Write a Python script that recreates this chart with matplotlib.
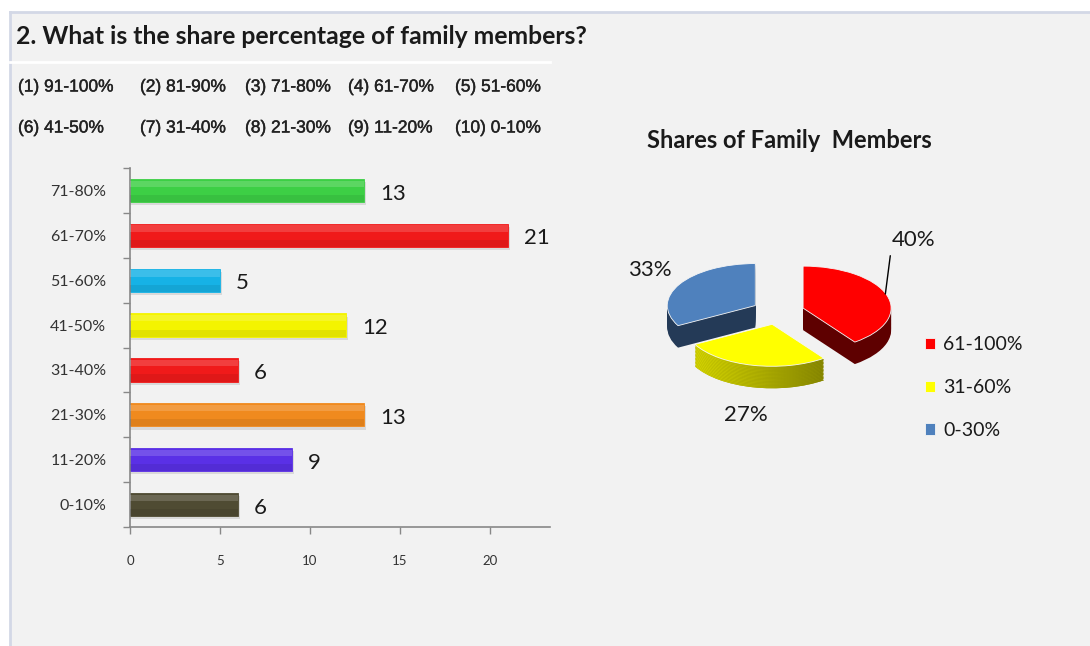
import numpy as np
import matplotlib.pyplot as plt
import matplotlib.patheffects as pe
from matplotlib.patches import Rectangle
from matplotlib.lines import Line2D
from matplotlib.colors import LinearSegmentedColormap

W, H = 1090, 646

categories = ["71-80%", "61-70%", "51-60%", "41-50%", "31-40%", "21-30%", "11-20%", "0-10%"]
counts = [13, 21, 5, 12, 6, 13, 9, 6]
bar_colors = ["#3dcf45", "#f01a1a", "#16b2e6", "#f4f400", "#f01a1a", "#f08a1e", "#5a30e6", "#4f4b33"]
xticks = [0, 5, 10, 15, 20]

codes = [
    ["(1) 91-100%", "(2) 81-90%", "(3) 71-80%", "(4) 61-70%", "(5) 51-60%"],
    ["(6) 41-50%", "(7) 31-40%", "(8) 21-30%", "(9) 11-20%", "(10) 0-10%"],
]

pie_labels = ["61-100%", "31-60%", "0-30%"]
pie_values = [counts[0] + counts[1], counts[2] + counts[3] + counts[4], counts[5] + counts[6] + counts[7]]
pie_top = ["#ff0000", "#ffff00", "#4f81bd"]
pie_side = ["#5e0000", "#9c9c00", "#243a57"]


def box(x0, y0, x1, y1):
    """Pixel box (top-left origin) -> figure fraction rect."""
    return [x0 / W, 1 - y1 / H, (x1 - x0) / W, (y1 - y0) / H]


fig = plt.figure(figsize=(W / 100, H / 100), dpi=100)
fig.patch.set_facecolor("white")
fig.add_artist(Rectangle((10 / W, 0), 1, 1 - 12 / H, transform=fig.transFigure,
                         facecolor="#f2f2f2", edgecolor="none", zorder=-10))
fig.add_artist(Line2D([10 / W, 1], [1 - 12 / H, 1 - 12 / H], color="#d3d8e6", lw=2,
                      transform=fig.transFigure))
fig.add_artist(Line2D([10 / W, 10 / W], [0, 1 - 12 / H], color="#d3d8e6", lw=2,
                      transform=fig.transFigure))
fig.add_artist(Line2D([10 / W, 550 / W], [1 - 62 / H, 1 - 62 / H], color="white", lw=2,
                      transform=fig.transFigure))

fig.text(16 / W, 1 - 36 / H, "2. What is the share percentage of family members?",
         fontsize=17.8, fontweight="bold", family="Lato", color="#1a1a1a", va="center")

col_x = [18, 140, 245, 348, 455]
row_y = [87, 128]
thick = [pe.withStroke(linewidth=0.3, foreground="#222222")]
for row, yy in zip(codes, row_y):
    for txt, xx in zip(row, col_x):
        fig.text(xx / W, 1 - yy / H, txt, fontsize=12.5, family="Liberation Sans",
                 color="#222222", va="center", path_effects=thick)

# ---- bar chart
ax = fig.add_axes(box(130, 168, 550, 527))
ax.set_facecolor("none")
y = list(range(len(categories)))
ax.barh([v + 0.07 for v in y], [c + 0.12 for c in counts], height=0.52,
        color="#000000", alpha=0.1, zorder=1)
ax.barh(y, counts, height=0.52, color=bar_colors, edgecolor=bar_colors,
        linewidth=0.6, zorder=2)
ax.barh([v + 0.18 for v in y], counts, height=0.16, color="#000000", alpha=0.07, zorder=3)
ax.barh([v - 0.15 for v in y], counts, height=0.14, color="white", alpha=0.16, zorder=3)
for yy, c in zip(y, counts):
    ax.text(c + 0.9, yy + 0.07, str(c), fontsize=16, family="Lato", color="#1a1a1a",
            ha="left", va="center")

ax.set_xlim(0, 420 / 18)
ax.set_ylim(len(categories) - 0.5, -0.5)
ax.set_yticks(y)
ax.set_yticklabels(categories, fontsize=11.5, family="Lato", color="#333333")
ax.set_yticks([v - 0.5 for v in range(len(categories) + 1)], minor=True)
ax.tick_params(axis="y", which="major", length=0, pad=17)
ax.tick_params(axis="y", which="minor", length=5, color="#888888", width=1)
ax.set_xticks(xticks)
ax.tick_params(axis="x", length=5, color="#888888", width=1, pad=15,
               labelsize=9.5, labelcolor="#333333")
for lab in ax.get_xticklabels():
    lab.set_family("Lato")
for s in ["top", "right"]:
    ax.spines[s].set_visible(False)
for s in ["left", "bottom"]:
    ax.spines[s].set_color("#888888")
    ax.spines[s].set_linewidth(1.2)

# ---- 3d-looking pie
cx, cy, sx, sy = 778, 312, 88, 42
x0, x1, y0, y1 = 620, 940, 230, 440
pax = fig.add_axes(box(x0, y0, x1, y1))
depth = 22 / sy
n_layers = 16
explode = [0.3, 0.3, 0.3]
yellow_side = LinearSegmentedColormap.from_list("ys", ["#e2e200", "#a8a800", "#6a6a00"])
grad = np.linspace(0, 1, 256).reshape(1, -1)
for k in range(n_layers):
    off = -depth + depth * k / n_layers
    side, _ = pax.pie(pie_values, colors=pie_side, startangle=90, counterclock=False,
                      explode=explode, center=(0, off), wedgeprops=dict(linewidth=0))
    for w in side:
        w.set_zorder(k)
    im = pax.imshow(grad, cmap=yellow_side, extent=(-1.15, 0.95, -3, 1), aspect="auto",
                    zorder=k + 0.5)
    im.set_clip_path(side[1])
wedges, _ = pax.pie(pie_values, colors=pie_top, startangle=90, counterclock=False,
                    explode=explode, wedgeprops=dict(linewidth=0.6, edgecolor="#f6f6f6"))
for w in wedges:
    w.set_zorder(n_layers + 1)
pax.set_aspect("auto")
pax.set_xlim((x0 - cx) / sx, (x1 - cx) / sx)
pax.set_ylim(-(y1 - cy) / sy, (cy - y0) / sy)
pax.axis("off")

total = sum(pie_values)
pct = ["{:.0f}%".format(100 * v / total) for v in pie_values]
pax.annotate(pct[0], xy=(1.22, 0.43), xytext=(1.29, 1.71), fontsize=16, family="Lato",
             color="#1a1a1a", ha="left", va="center", zorder=30,
             arrowprops=dict(arrowstyle="-", color="black", lw=1, shrinkA=2, shrinkB=0,
                             relpos=(0.0, 0.2)))
pax.text(-1.455, 1.0, pct[2], fontsize=16, family="Lato", color="#1a1a1a",
         ha="center", va="center", zorder=30)
pax.text(-0.36, -2.45, pct[1], fontsize=16, family="Lato", color="#1a1a1a",
         ha="center", va="center", zorder=30)

fig.text(789 / W, 1 - 140 / H, "Shares of Family  Members", fontsize=17, fontweight="bold",
         family="Lato", color="#1a1a1a", ha="center", va="center")

leg = fig.legend(wedges, pie_labels, loc="upper left",
                 bbox_to_anchor=(907 / W, 1 - 319 / H), frameon=False,
                 handlelength=0.55, handleheight=0.55, handletextpad=0.4,
                 labelspacing=1.33, prop=dict(family="Lato", size=14))
for t in leg.get_texts():
    t.set_color("#1a1a1a")

fig.savefig("out.png", dpi=100)
